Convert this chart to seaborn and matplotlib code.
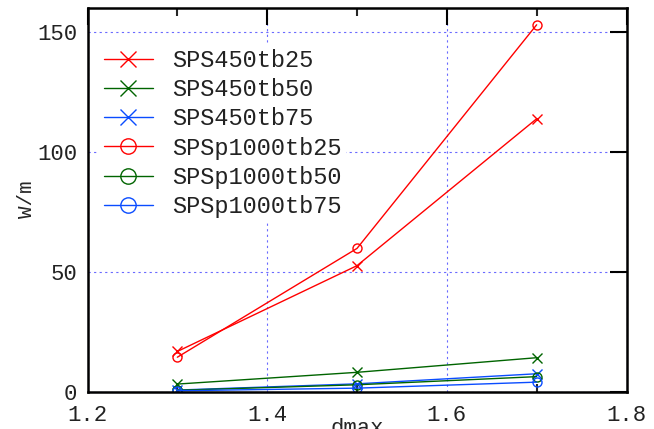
import matplotlib
matplotlib.use("Agg")
import matplotlib.pyplot as plt
import seaborn as sns
import pandas as pd
from matplotlib.ticker import MultipleLocator

dmax = [1.3, 1.5, 1.7]
series_names = ["SPS450tb25", "SPS450tb50", "SPS450tb75",
                "SPSp1000tb25", "SPSp1000tb50", "SPSp1000tb75"]
sps450tb25 = [16.7, 52.5, 113.8]
sps450tb50 = [3.1, 8.0, 14.1]
sps450tb75 = [0.6, 3.2, 7.4]
spsp1000tb25 = [14.3, 59.7, 153.0]
spsp1000tb50 = [0.5, 2.8, 6.2]
spsp1000tb75 = [0.3, 1.4, 3.9]
values = [sps450tb25, sps450tb50, sps450tb75, spsp1000tb25, spsp1000tb50, spsp1000tb75]

colors = ["#ff0000", "#006400", "#0a4cff", "#ff0000", "#006400", "#0a4cff"]
markers = ["x", "x", "x", "o", "o", "o"]

sns.set_style("white")
plt.rcParams['font.family'] = ['Liberation Mono', 'DejaVu Sans Mono']

fig = plt.figure(figsize=(6.54, 4.29), dpi=100)
ax = fig.add_axes([87.5/654, 37.5/429, (626.5-87.5)/654, (391.5-8)/429])

for name, vals, c, m in zip(series_names, values, colors, markers):
    df = pd.DataFrame({"dmax": dmax, "W/m": vals})
    sns.lineplot(data=df, x="dmax", y="W/m", ax=ax, color=c, marker=m,
                 markersize=6.5, mfc="none", mec=c, mew=1.0,
                 linewidth=1.0, label=name)

ax.set_xlim(1.2, 1.8)
ax.set_ylim(0, 160)
ax.xaxis.set_minor_locator(MultipleLocator(0.1))
ax.set_xticks([1.2, 1.4, 1.6, 1.8])
ax.set_xticklabels(["1.2", "1.4", "1.6", "1.8"])
ax.set_yticks([0, 50, 100, 150])
ax.set_yticklabels(["0", "50", "100", "150"])

ax.tick_params(axis="both", which="major", direction="in", length=12, width=1.5,
               top=True, right=True, labelsize=16, pad=10, colors="black")
ax.tick_params(axis="x", which="minor", direction="in", length=6, width=1.5,
               top=True, bottom=True)
ax.tick_params(axis="y", which="major", pad=7.5)
for lab in ax.get_xticklabels() + ax.get_yticklabels():
    lab.set_color("#222222")

for sp in ax.spines.values():
    sp.set_visible(True)
    sp.set_linewidth(1.8)
    sp.set_color("black")

ax.grid(True, which="major", color="#6a6aff", linestyle=(0, (2, 3)), linewidth=0.8)
ax.set_axisbelow(True)

ax.set_xlabel("dmax", fontsize=16, labelpad=-6)
ax.set_ylabel("W/m", fontsize=15, labelpad=1)

leg = ax.legend(loc="upper left", bbox_to_anchor=(0.0, 0.935), frameon=True,
                fancybox=False, edgecolor="none", facecolor="white", framealpha=1,
                fontsize=17, markerscale=1.7, handlelength=2.08, handletextpad=0.8,
                labelspacing=0.26, borderpad=0.19)
for t in leg.get_texts():
    t.set_color("#222222")

fig.savefig("out.png", dpi=100)
